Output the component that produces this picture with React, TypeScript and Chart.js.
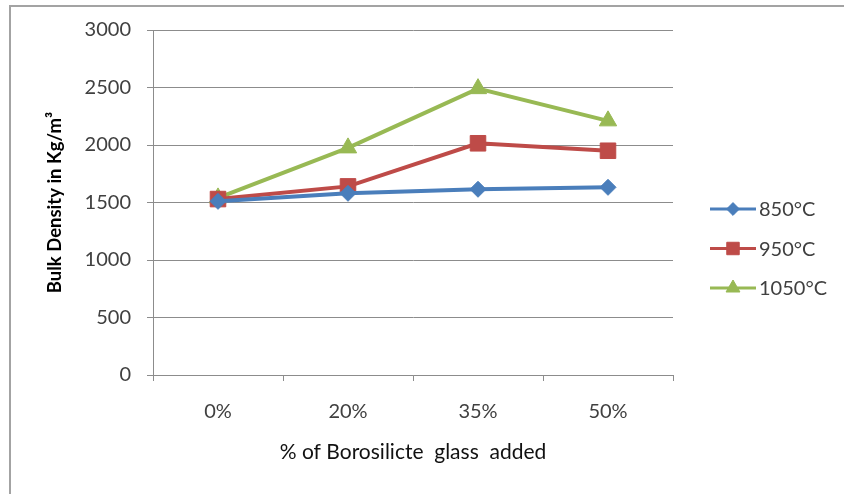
import { useEffect, useRef } from "react";
import { Chart, registerables } from "chart.js";
import { drawPoint } from "chart.js/helpers";

Chart.register(...registerables);

// Glass addition levels on the x axis
const categories = ["0%", "20%", "35%", "50%"];

// Bulk density (kg/m³) for each firing temperature
const density850 = [1510, 1580, 1615, 1632];
const density950 = [1530, 1640, 2015, 1950];
const density1050 = [1540, 1975, 2490, 2210];

const seriesLabels = ["850°C", "950°C", "1050°C"];
const seriesColors = ["#4a7ebb", "#be4b48", "#98b954"];
const seriesMarkers = ["rectRot", "rect", "triangle"];
const markerRadius = [8, 11, 10];

const yMin = 0;
const yMax = 3000;
const yStep = 500;

const FONT = "Lato, 'Open Sans', sans-serif";
const AXIS_GREY = "#8c8c8c";
const TEXT_GREY = "#404040";

// White page and the outer frame of the chart object
const framePlugin = {
  id: "frame",
  beforeDraw(chart: Chart) {
    const { ctx, width, height } = chart;
    ctx.save();
    ctx.fillStyle = "#ffffff";
    ctx.fillRect(0, 0, width, height);
    ctx.strokeStyle = "#a3a3a3";
    ctx.lineWidth = 2;
    ctx.strokeRect(10, 6, width + 20, height + 20);
    ctx.restore();
  },
};

// Legend drawn as line + marker + label, in the style of an office chart
const sideLegendPlugin = {
  id: "sideLegend",
  afterDraw(chart: Chart) {
    const { ctx } = chart;
    const x0 = 710;
    const x1 = 756;
    const top = 209;
    const gap = 39.5;
    ctx.save();
    chart.data.datasets.forEach((ds: any, i: number) => {
      const y = top + i * gap;
      ctx.strokeStyle = ds.borderColor;
      ctx.lineWidth = 3;
      ctx.beginPath();
      ctx.moveTo(x0, y);
      ctx.lineTo(x1, y);
      ctx.stroke();
      ctx.fillStyle = ds.backgroundColor;
      ctx.strokeStyle = ds.borderColor;
      ctx.lineWidth = 1;
      drawPoint(ctx, { pointStyle: ds.pointStyle, rotation: 0, radius: ds.pointRadius * 0.8, borderWidth: 1 }, (x0 + x1) / 2, y);
      ctx.fillStyle = TEXT_GREY;
      ctx.font = `20px ${FONT}`;
      ctx.textBaseline = "middle";
      ctx.textAlign = "left";
      ctx.fillText(ds.label, 759, y + 1);
    });
    ctx.restore();
  },
};

export default function App() {
  const canvasRef = useRef<HTMLCanvasElement | null>(null);

  useEffect(() => {
    if (!canvasRef.current) return;
    const values = [density850, density950, density1050];
    const chart = new Chart(canvasRef.current, {
      type: "line",
      data: {
        labels: categories,
        datasets: values.map((data, i) => ({
          label: seriesLabels[i],
          data,
          borderColor: seriesColors[i],
          backgroundColor: seriesColors[i],
          borderWidth: 4,
          pointStyle: seriesMarkers[i] as any,
          pointRadius: markerRadius[i],
          pointBorderWidth: 1,
          tension: 0,
        })),
      },
      options: {
        responsive: false,
        animation: false,
        events: [],
        layout: { padding: { top: 30, right: 171, left: 0, bottom: 0 } },
        plugins: {
          legend: { display: false },
          tooltip: { enabled: false },
        },
        scales: {
          x: {
            offset: true,
            grid: {
              offset: true,
              drawOnChartArea: false,
              tickLength: 6,
              color: AXIS_GREY,
            },
            border: { color: AXIS_GREY, width: 1 },
            ticks: {
              padding: 19,
              color: TEXT_GREY,
              font: { family: FONT, size: 20 },
            },
            title: {
              display: true,
              text: "% of Borosilicte  glass  added",
              color: "#111111",
              font: { family: FONT, size: 21 },
              padding: { top: 0, bottom: 29 },
            },
            afterFit(scale: any) {
              scale.height = 119;
            },
          },
          y: {
            min: yMin,
            max: yMax,
            ticks: {
              stepSize: yStep,
              padding: 16,
              color: TEXT_GREY,
              font: { family: FONT, size: 20 },
              callback: (v: any) => String(v),
            },
            grid: { color: AXIS_GREY, lineWidth: 1, tickLength: 6 },
            border: { color: AXIS_GREY, width: 1 },
            title: {
              display: true,
              text: "Bulk Density in Kg/m³",
              color: "#000000",
              font: { family: FONT, size: 18.5, weight: "bold" },
              padding: { top: 44, bottom: 0 },
            },
            afterFit(scale: any) {
              scale.width = 153;
            },
          },
        },
      },
      plugins: [framePlugin, sideLegendPlugin],
    });
    return () => chart.destroy();
  }, []);

  return (
    <div style={{ position: "fixed", left: 0, top: 0, width: 844, height: 494 }}>
      <canvas ref={canvasRef} width={844} height={494} style={{ display: "block" }} />
    </div>
  );
}
